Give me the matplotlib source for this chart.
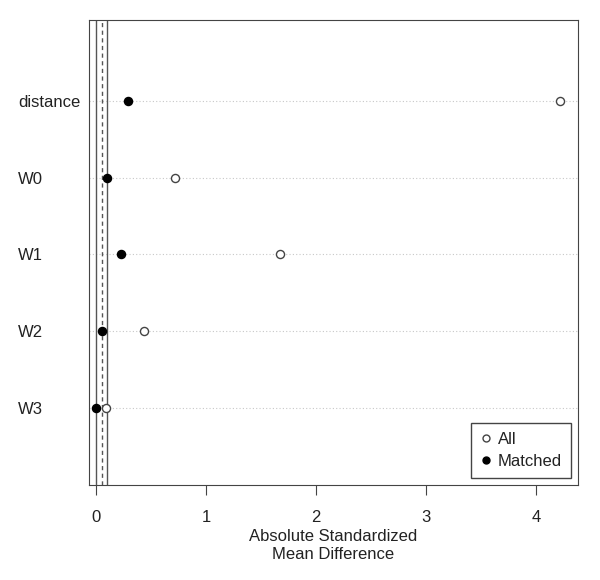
import matplotlib.pyplot as plt
from matplotlib.lines import Line2D

plt.rcParams["font.family"] = ["Liberation Sans", "DejaVu Sans"]

variables = ["distance", "W0", "W1", "W2", "W3"]
smd_all = [4.22, 0.72, 1.67, 0.44, 0.09]
smd_matched = [0.29, 0.10, 0.23, 0.055, 0.0]
xticks = [0, 1, 2, 3, 4]

fig = plt.figure(figsize=(6, 5.8), dpi=100)
ax = fig.add_axes([89 / 600, 95 / 580, 489 / 600, 465 / 580])

ypos = list(range(len(variables), 0, -1))

for y in ypos:
    ax.axhline(y, color="#c8c8c8", linestyle=(0, (1, 2)), linewidth=0.8, zorder=0)

ax.axvline(0, color="#555555", linewidth=1)
ax.axvline(0.05, color="#555555", linewidth=1, linestyle=(0, (3, 2.5)))
ax.axvline(0.1, color="#555555", linewidth=1)

ax.scatter(smd_all, ypos, s=34, facecolors="white", edgecolors="#444444",
           linewidths=1, zorder=3)
ax.scatter(smd_matched, ypos, s=34, color="black", zorder=4)

ax.set_xlim(-0.064, 4.38)
ax.set_ylim(0, 6.05)
ax.set_xticks(xticks)
ax.set_xticklabels([str(t) for t in xticks], fontsize=12)
ax.set_yticks([])
for y, name in zip(ypos, variables):
    ax.text(-0.145, y - 0.02, name, transform=ax.get_yaxis_transform(),
            ha="left", va="center", fontsize=12, color="#222222")
ax.tick_params(axis="x", length=7, color="#444444", pad=11, labelcolor="#222222")
ax.set_xlabel("Absolute Standardized\nMean Difference", fontsize=12, labelpad=3,
              linespacing=1.2, color="#222222")

for s in ax.spines.values():
    s.set_color("#444444")

handles = [
    Line2D([], [], marker="o", linestyle="", markerfacecolor="white",
           markeredgecolor="#444444", markersize=5, label="All"),
    Line2D([], [], marker="o", linestyle="", color="black", markersize=5,
           label="Matched"),
]
leg = ax.legend(handles=handles, loc="lower right", fontsize=12, fancybox=False,
                edgecolor="#444444", framealpha=1, handletextpad=0.35,
                borderpad=0.55, handlelength=0.7, labelspacing=0.42,
                borderaxespad=0, bbox_to_anchor=(0.986, 0.015))
leg.get_frame().set_linewidth(1)
for t in leg.get_texts():
    t.set_color("#222222")

fig.savefig("out.png", dpi=100)
